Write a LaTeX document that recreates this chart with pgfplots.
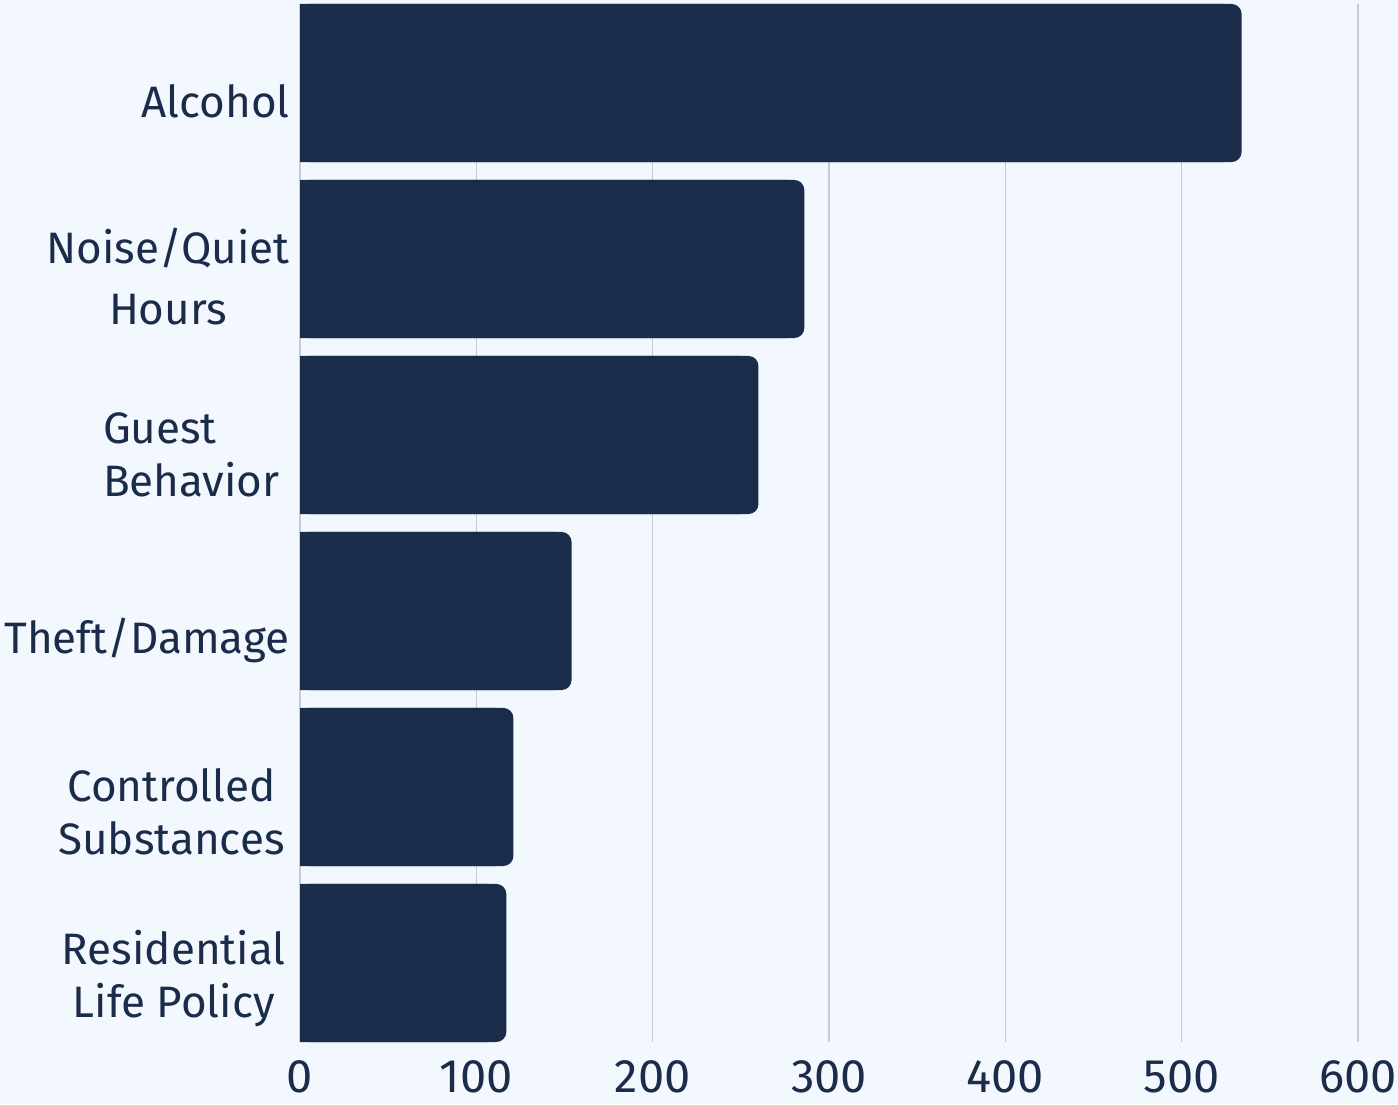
\documentclass[border=0pt]{standalone}
\usepackage{fontspec}
\setmainfont{Fira Sans}
\usepackage{pgfplots}
\pgfplotsset{compat=1.18}
\definecolor{bg}{HTML}{F3F8FE}
\definecolor{navy}{HTML}{1B2B4A}
\definecolor{gridc}{HTML}{C5CAD4}
\begin{document}
\begin{tikzpicture}
\path[use as bounding box, fill=bg] (0,0) rectangle (699pt,552pt);
\begin{axis}[
  at={(150pt,31pt)}, anchor=south west,
  width=529pt, height=519pt, scale only axis,
  xbar, bar width=0.898,
  xmin=0, xmax=600, ymin=-0.449, ymax=5.449,
  xtick={0,100,...,600},
  ytick={0,...,5},
  yticklabels={{Residential\\Life Policy},{Controlled\\Substances},{Theft/Damage},{\rlap{Guest}\phantom{Behavior}\\Behavior},{Noise/Quiet\\[4pt]Hours},{Alcohol}},
  axis line style={draw=none},
  major tick length=0pt,
  xmajorgrids, grid style={gridc, line width=0.75pt},
  /pgf/number format/assume math mode=true,
  xticklabel style={font=\fontsize{23.5}{27}\selectfont, text=navy, anchor=north, inner sep=0pt, yshift=-9pt},
  yticklabel style={font=\fontsize{22}{26.5}\selectfont, text=navy, align=center, anchor=east, inner sep=0pt,
    xshift={-5pt + (\ticknum==3)*(-5pt) + (\ticknum==1)*(-2.5pt) + (\ticknum==0)*(-2pt)},
    yshift={-9pt + (\ticknum==2)*(-5.5pt) + (\ticknum==1)*(-3.5pt) + (\ticknum==0)*(1pt)}},
  clip=false,
]
\addplot[xbar, bar shift=0pt, fill=navy, draw=none, rounded corners=5pt] coordinates {(534,5) (286,4) (260,3) (154,2) (121,1) (117,0)};
\addplot[xbar, bar shift=0pt, fill=navy, draw=none, x filter/.expression={x-10}] coordinates {(534,5) (286,4) (260,3) (154,2) (121,1) (117,0)};
\end{axis}
\end{tikzpicture}
\end{document}
